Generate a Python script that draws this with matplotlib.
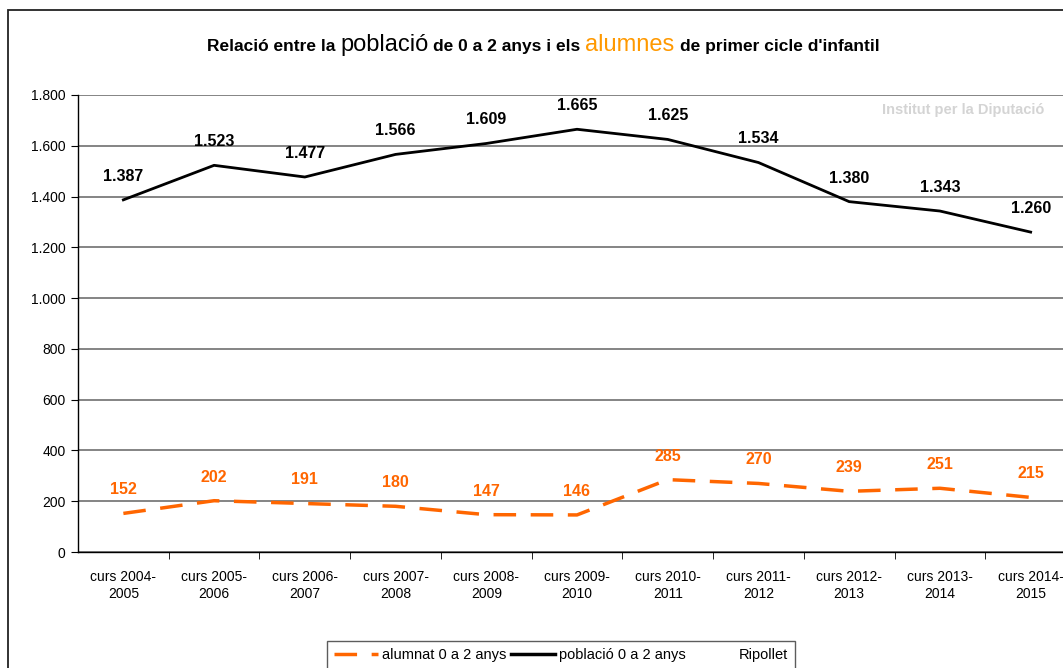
import matplotlib
matplotlib.use('Agg')
import matplotlib.pyplot as plt
from matplotlib.patches import Rectangle
from matplotlib.lines import Line2D

plt.rcParams['font.family'] = ['Liberation Sans', 'DejaVu Sans']

cursos = ['curs 2004-\n2005', 'curs 2005-\n2006', 'curs 2006-\n2007', 'curs 2007-\n2008',
          'curs 2008-\n2009', 'curs 2009-\n2010', 'curs 2010-\n2011', 'curs 2011-\n2012',
          'curs 2012-\n2013', 'curs 2013-\n2014', 'curs 2014-\n2015']
poblacio = [1387, 1523, 1477, 1566, 1609, 1665, 1625, 1534, 1380, 1343, 1260]
alumnat = [152, 202, 191, 180, 147, 146, 285, 270, 239, 251, 215]
y_ticks = [0, 200, 400, 600, 800, 1000, 1200, 1400, 1600, 1800]

ORANGE = '#ff6600'
W, H = 1063, 668


def fmt(v):
    return f'{v:,}'.replace(',', '.')


fig = plt.figure(figsize=(W / 100, H / 100), dpi=100)

# outer chart border (cut off on right and bottom)
fig.patches.append(Rectangle((8 / W, -0.1), 1.1, 1.1 - 10 / H, transform=fig.transFigure,
                             fill=False, edgecolor='#222222', linewidth=1.3))

ax = fig.add_axes([78 / W, 1 - 552 / H, 998 / W, (552 - 95) / H])
x = list(range(len(cursos)))

ax.plot(x, alumnat, color=ORANGE, linewidth=2.5, linestyle=(0, (6.5, 4.2)),
        label='alumnat 0 a 2 anys', clip_on=False)
ax.plot(x, poblacio, color='black', linewidth=2.0, label='població 0 a 2 anys', clip_on=False)

for xi, v in zip(x, poblacio):
    ax.annotate(fmt(v), (xi, v), xytext=(0, 17), textcoords='offset points',
                ha='center', va='center', fontsize=11.5, fontweight='bold', color='black')
for xi, v in zip(x, alumnat):
    ax.annotate(fmt(v), (xi, v), xytext=(0, 17), textcoords='offset points',
                ha='center', va='center', fontsize=11.5, fontweight='bold', color=ORANGE)

ax.set_xlim(-0.5, len(cursos) - 0.5)
ax.set_ylim(0, 1800)
ax.set_yticks(y_ticks)
ax.set_yticklabels([fmt(v) for v in y_ticks], fontsize=10)
ax.set_xticks(x)
ax.set_xticklabels(cursos, fontsize=10, linespacing=1.3)
ax.set_xticks([i + 0.5 for i in x], minor=True)
ax.tick_params(axis='x', which='major', length=0, pad=13)
ax.tick_params(axis='x', which='minor', length=5, direction='out')
ax.tick_params(axis='y', length=5, direction='out', pad=4)
ax.grid(axis='y', color='#707070', linewidth=1.2)
ax.set_axisbelow(True)
for side in ['top', 'right']:
    ax.spines[side].set_visible(False)
ax.spines['left'].set_linewidth(1.0)
ax.spines['bottom'].set_linewidth(1.0)

# watermark
fig.text(882 / W, 1 - 110 / H, "Institut per la Diputació", fontsize=10.5,
         fontweight='bold', color='#d4d4d4', va='center', ha='left')

# title with mixed styles
pieces = [('Relació entre la', 12.5, 'bold', 'black'),
          ('població', 17, 'normal', 'black'),
          ('de 0 a 2 anys i els', 12.5, 'bold', 'black'),
          ('alumnes', 17, 'normal', '#ff9900'),
          ("de primer cicle d'infantil", 12.5, 'bold', 'black')]
renderer = fig.canvas.get_renderer()
texts = []
for s, size, weight, color in pieces:
    t = fig.text(0, 1 - 51 / H, s, fontsize=size, fontweight=weight, color=color,
                 ha='left', va='baseline')
    texts.append(t)
gap = 5
widths = [t.get_window_extent(renderer).width for t in texts]
total = sum(widths) + gap * (len(widths) - 1)
cur = 543 - total / 2
for t, w in zip(texts, widths):
    t.set_x(cur / W)
    cur += w + gap

# legend
handles = [Line2D([], [], color=ORANGE, linewidth=2.5, linestyle=(0, (6.5, 4.2))),
           Line2D([], [], color='black', linewidth=2.5),
           Line2D([], [], color='none')]
leg = fig.legend(handles, ['alumnat 0 a 2 anys', 'població 0 a 2 anys', 'Ripollet'],
                 loc='upper center', bbox_to_anchor=(561 / W, 1 - 641 / H), ncol=3,
                 fontsize=10.5, frameon=True, fancybox=False, handlelength=3.0,
                 handletextpad=0.3, columnspacing=0.3, borderpad=0.5, borderaxespad=0)
leg.get_frame().set_edgecolor('#333333')
leg.get_frame().set_linewidth(1.0)

fig.savefig('out.png', dpi=100)
